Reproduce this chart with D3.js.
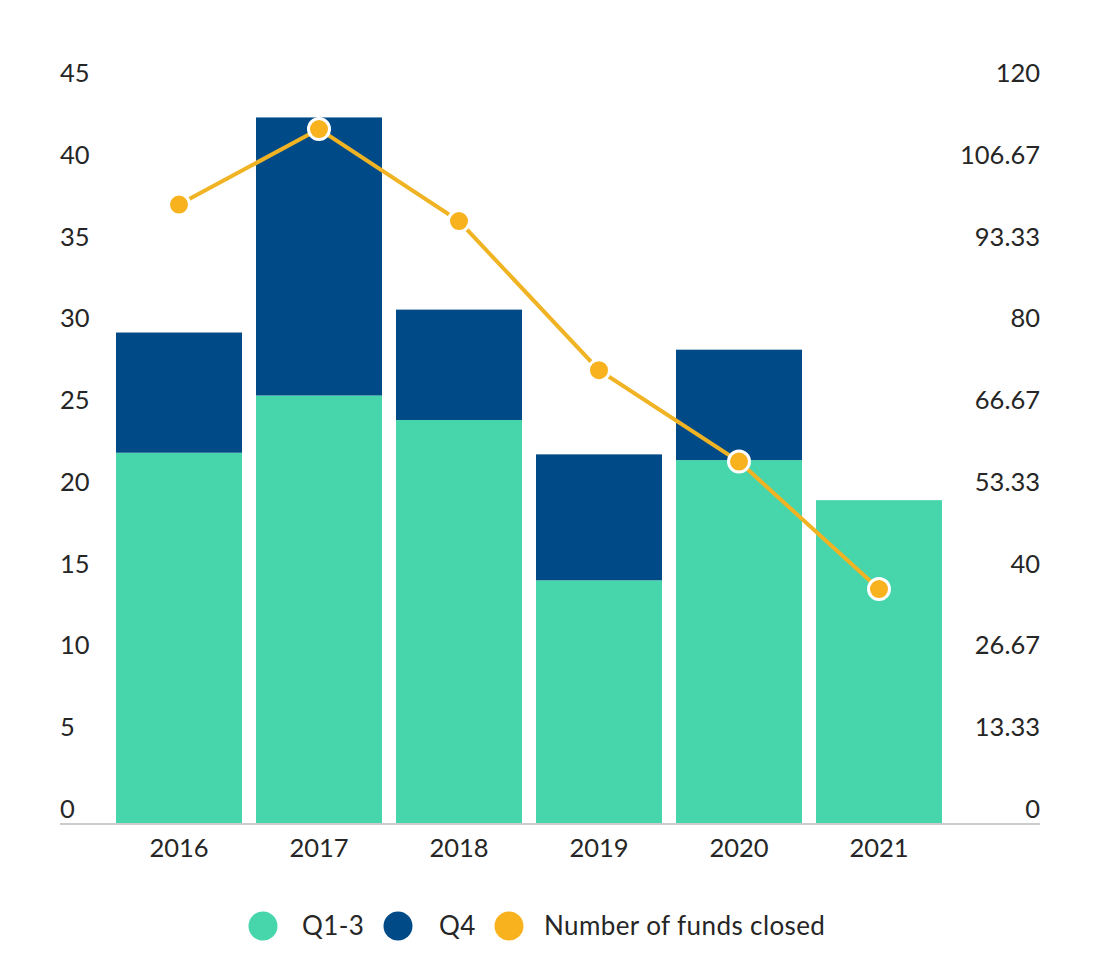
<!DOCTYPE html>
<html>
<head>
<meta charset="utf-8">
<script src="https://cdn.jsdelivr.net/npm/d3@7"></script>
<style>
  html, body { margin: 0; padding: 0; background: #fff; }
  svg { display: block; font-family: "Lato", "Noto Sans", sans-serif; }
</style>
</head>
<body>
<svg id="chart" width="1100" height="972"></svg>
<script>
const years = ["2016", "2017", "2018", "2019", "2020", "2021"];
const q13 = [22.7, 26.2, 24.7, 14.9, 22.25, 19.8];
const q4 = [7.35, 17.0, 6.75, 7.7, 6.75, 0];
const fundsClosed = [101, 113.3, 98.3, 74, 59.1, 38.3];
const leftTicks = [0, 5, 10, 15, 20, 25, 30, 35, 40, 45];
const rightTicks = [0, 13.33, 26.67, 40, 53.33, 66.67, 80, 93.33, 106.67, 120];
const legendLabels = ["Q1-3", "Q4", "Number of funds closed"];

const colors = { q13: "#47d6ac", q4: "#004b87", line: "#f0b323", marker: "#f7b21e" };
const textColor = "#262626";
const fontFam = "Lato, 'Noto Sans', sans-serif";

const svg = d3.select("#chart");
const plotTop = 88, plotBottom = 824, plotLeft = 109, plotRight = 949;

const x = d3.scaleBand().domain(years).range([plotLeft, plotRight]).paddingInner(0.1).paddingOuter(0.05);
const yL = d3.scaleLinear().domain([0, 45]).range([plotBottom, plotTop]);
const yR = d3.scaleLinear().domain([0, 120]).range([plotBottom, plotTop]);

// stacked bars
const stackData = years.map((yr, i) => ({ year: yr, q13: q13[i], q4: q4[i] }));
const series = d3.stack().keys(["q13", "q4"])(stackData);
svg.append("g").selectAll("g").data(series).join("g")
  .attr("fill", d => colors[d.key])
  .selectAll("rect").data(d => d.filter(s => s[1] - s[0] > 0)).join("rect")
  .attr("x", d => x(d.data.year))
  .attr("width", x.bandwidth())
  .attr("y", d => yL(d[1]))
  .attr("height", d => yL(d[0]) - yL(d[1]));

// baseline
svg.append("line").attr("x1", 60).attr("x2", 1040).attr("y1", plotBottom).attr("y2", plotBottom)
  .attr("stroke", "#cccccc").attr("stroke-width", 2);

// left axis labels (above tick positions)
const leftAxis = d3.axisLeft(yL).tickValues(leftTicks).tickSize(0).tickFormat(d3.format("d"));
const gL = svg.append("g").attr("transform", "translate(60,0)").call(leftAxis);
gL.select(".domain").remove();
gL.selectAll("text").attr("text-anchor", "start").attr("x", 0).attr("dy", "-6.5")
  .attr("font-size", 25.5).attr("font-weight", 400).attr("fill", textColor).attr("font-family", fontFam);

const rightAxis = d3.axisRight(yR).tickValues(rightTicks).tickSize(0).tickFormat(d => String(d));
const gR = svg.append("g").attr("transform", "translate(1040,0)").call(rightAxis);
gR.select(".domain").remove();
gR.selectAll("text").attr("text-anchor", "end").attr("x", 0).attr("dy", "-6.5")
  .attr("font-size", 25.5).attr("font-weight", 400).attr("fill", textColor).attr("font-family", fontFam);

// x axis labels
const xAxis = d3.axisBottom(x).tickSize(0);
const gX = svg.append("g").attr("transform", `translate(0,${plotBottom})`).call(xAxis);
gX.select(".domain").remove();
gX.selectAll("text").attr("dy", "0").attr("y", 32.5)
  .attr("font-size", 25.5).attr("font-weight", 400).attr("fill", textColor).attr("font-family", fontFam);

// line
const cx = yr => x(yr) + x.bandwidth() / 2;
const line = d3.line().x((d, i) => cx(years[i])).y(d => yR(d));
svg.append("path").datum(fundsClosed).attr("d", line)
  .attr("fill", "none").attr("stroke", colors.line).attr("stroke-width", 4);
svg.append("g").selectAll("circle").data(fundsClosed).join("circle")
  .attr("cx", (d, i) => cx(years[i])).attr("cy", d => yR(d))
  .attr("r", 10.5).attr("fill", colors.marker).attr("stroke", "#fff").attr("stroke-width", 3);

// legend
const legendItems = [
  { label: legendLabels[0], color: colors.q13, cx: 263, tx: 302 },
  { label: legendLabels[1], color: colors.q4, cx: 398, tx: 439 },
  { label: legendLabels[2], color: colors.marker, cx: 509, tx: 544 }
];
const lg = svg.append("g");
lg.selectAll("circle").data(legendItems).join("circle")
  .attr("cx", d => d.cx).attr("cy", 926).attr("r", 14.5).attr("fill", d => d.color);
lg.selectAll("text").data(legendItems).join("text")
  .attr("x", d => d.tx).attr("y", 935)
  .attr("font-size", 26).attr("font-weight", 400).attr("letter-spacing", "0.4px")
  .attr("fill", textColor).text(d => d.label);
</script>
</body>
</html>
